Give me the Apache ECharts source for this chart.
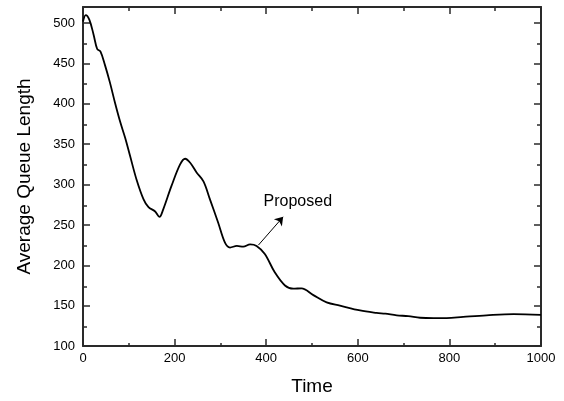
<!DOCTYPE html>
<html>
<head>
<meta charset="utf-8">
<script src="https://cdn.jsdelivr.net/npm/echarts@6/dist/echarts.min.js"></script>
<style>html,body{margin:0;padding:0;background:#fff}#c{width:564px;height:401px}</style>
</head>
<body>
<div id="c"></div>
<script>
var times = [0,6,14,23,31,38,48,59,70,81,92,103,117,132,143,157,167,175,193,212,223,234,248,263,277,295,310,321,336,350,365,379,397,419,441,459,477,503,532,561,605,641,660,685,710,736,765,794,830,881,940,1000];
var queueLen = [502,510,504,486,468,465,448,426,401,378,358,335,306,282,272,267,260,269,298,325,332,327,315,304,282,253,228,222,224,223,226,224,214,191,175,171,171.5,163,154,150,144,141,140,138,137,135,134.5,134.5,136,138,139.5,138.5];
var xMajor = [0,200,400,600,800,1000];
var xMinor = [100,300,500,700,900];
var yMajor = [100,150,200,250,300,350,400,450,500];
var yMinor = [125,175,225,275,325,375,425,475];
var arrowFrom = [383,225];
var arrowTo = [437,260];
var annotText = 'Proposed';
var annotPos = [469,279];

var AX = '#2a2a2a';
var FONT = 'Liberation Sans, Arial, sans-serif';
function plain(v){ return String(v); }
function xa(grid, pos, ticks, len, labels, line){
  var o = {type:'value', gridIndex:grid, position:pos, min:0, max:1000,
    axisLine:{show:line, onZero:false, lineStyle:{color:AX, width:2}},
    axisTick:{show:true, inside:true, length:len, customValues:ticks, lineStyle:{color:AX, width:1.5}},
    axisLabel:{show:labels, customValues:ticks, formatter:plain, margin:6, fontSize:13, color:'#000', fontFamily:FONT},
    splitLine:{show:false}};
  if (labels){ o.name='Time'; o.nameLocation='middle'; o.nameGap=31; o.nameTextStyle={fontSize:19, color:'#000', fontFamily:FONT}; }
  return o;
}
function ya(grid, pos, ticks, len, labels, line){
  var o = {type:'value', gridIndex:grid, position:pos, min:100, max:520,
    axisLine:{show:line, onZero:false, lineStyle:{color:AX, width:2}},
    axisTick:{show:true, inside:true, length:len, customValues:ticks, lineStyle:{color:AX, width:1.5}},
    axisLabel:{show:labels, customValues:ticks, formatter:plain, margin:8, fontSize:13, color:'#000', fontFamily:FONT},
    splitLine:{show:false}};
  if (labels){ o.name='Average Queue Length'; o.nameLocation='middle'; o.nameGap=49; o.nameTextStyle={fontSize:19, color:'#000', fontFamily:FONT}; }
  return o;
}
var chart = echarts.init(document.getElementById('c'), null, {renderer:'canvas'});
var data = times.map(function(t,i){return [t, queueLen[i]];});
chart.setOption({
  animation:false,
  backgroundColor:'#fff',
  grid:[{left:83, right:23, top:7, bottom:54}, {left:83, right:23, top:7, bottom:54}],
  xAxis:[xa(0,'bottom',xMajor,7,true,true), xa(0,'top',xMajor,7,false,true), xa(1,'bottom',xMinor,4,false,false), xa(1,'top',xMinor,4,false,false)],
  yAxis:[ya(0,'left',yMajor,7,true,true), ya(0,'right',yMajor,7,false,true), ya(1,'left',yMinor,4,false,false), ya(1,'right',yMinor,4,false,false)],
  series:[{
    type:'line', xAxisIndex:0, yAxisIndex:0, data:data, smooth:0.35, showSymbol:false,
    lineStyle:{color:'#000', width:1.8}, silent:true,
    markLine:{silent:true, symbol:['none','arrow'], symbolSize:8, label:{show:false},
      lineStyle:{color:'#000', width:1, type:'solid'},
      data:[[{coord:arrowFrom},{coord:arrowTo}]]},
    markPoint:{silent:true, symbol:'circle', symbolSize:0,
      data:[{coord:annotPos, label:{show:true, position:'inside', formatter:annotText, fontSize:16, color:'#000', fontFamily:FONT}}]}
  }]
});
</script>
</body>
</html>
